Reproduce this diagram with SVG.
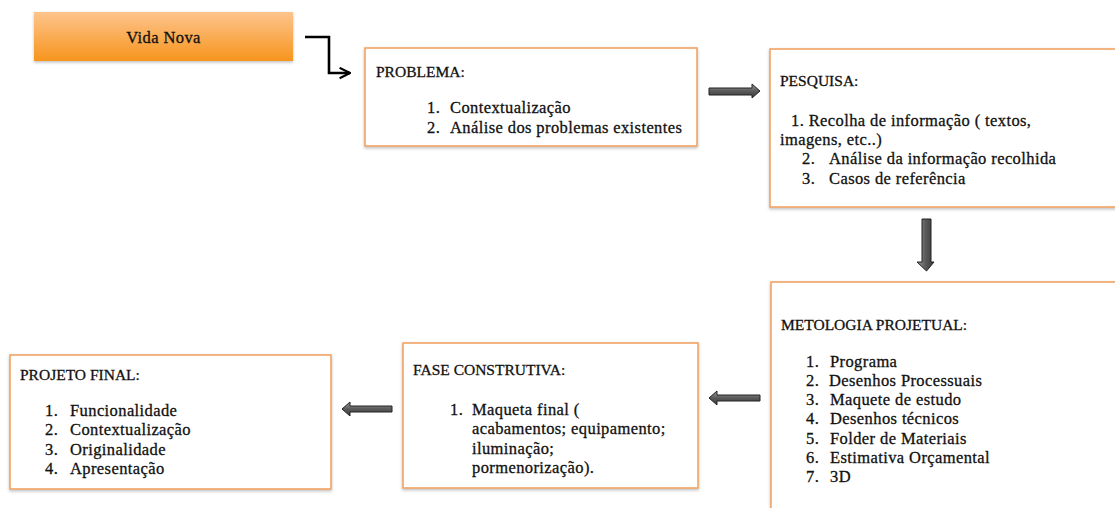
<svg xmlns="http://www.w3.org/2000/svg" width="1115" height="508" viewBox="0 0 1115 508">
<style>
text{font-family:"Liberation Serif","Times New Roman",serif;font-size:16.5px;letter-spacing:0.4px;fill:#111;stroke:#111;stroke-width:0.3}
text.t{font-size:15.5px;letter-spacing:0}
.box{fill:#fff;stroke:#f0a464;stroke-width:1.6}
.blk{fill:url(#ag);stroke:#222;stroke-width:1}
.elb{fill:none;stroke:#000;stroke-width:2.6}
</style>
<defs>
<linearGradient id="og" x1="0" y1="0" x2="0" y2="1">
<stop offset="0" stop-color="#fdc48c"/>
<stop offset="1" stop-color="#f7951e"/>
</linearGradient>
<linearGradient id="ag" x1="0" y1="0" x2="0" y2="1">
<stop offset="0" stop-color="#9a9a9a"/>
<stop offset="0.5" stop-color="#5a5a5a"/>
<stop offset="1" stop-color="#3a3a3a"/>
</linearGradient>
<linearGradient id="agv" x1="0" y1="0" x2="1" y2="0">
<stop offset="0" stop-color="#9a9a9a"/>
<stop offset="0.5" stop-color="#5a5a5a"/>
<stop offset="1" stop-color="#3a3a3a"/>
</linearGradient>
<filter id="sh" x="-5%" y="-5%" width="110%" height="115%">
<feDropShadow dx="0" dy="1.5" stdDeviation="1.5" flood-color="#000" flood-opacity="0.25"/>
</filter>
<marker id="ah" viewBox="0 0 10 10" refX="9" refY="5" markerWidth="5" markerHeight="5" orient="auto" markerUnits="strokeWidth">
<path d="M1,1 L9,5 L1,9" fill="none" stroke="#000" stroke-width="1.6"/>
</marker>
</defs>

<g id="connectors">
<path class="elb" d="M305,37 H329 V73 H350" marker-end="url(#ah)"/>
<path class="blk" d="M709,88 H752 V84 L760,91 L752,98 V95 H709 Z"/>
<path style="fill:url(#agv);stroke:#222;stroke-width:1" d="M922,219 H931 V262 H934 L926.5,271 L917,262 H922 Z"/>
<path class="blk" d="M760,395 H717 V391 L709,398 L717,405 V401 H760 Z"/>
<path class="blk" d="M392,406 H350 V402 L342,409 L350,416 V412 H392 Z"/>
</g>

<g id="vida-nova">
<rect x="34" y="12" width="259" height="49" fill="url(#og)" filter="url(#sh)"/>
<text x="163.5" y="43" text-anchor="middle">Vida Nova</text>
</g>

<g id="problema">
<rect class="box" x="365" y="48" width="332" height="98" filter="url(#sh)"/>
<text class="t" x="376" y="77">PROBLEMA:</text>
<text x="427" y="113">1.</text><text x="450" y="113">Contextualização</text>
<text x="427" y="133">2.</text><text x="450" y="133">Análise dos problemas existentes</text>
</g>

<g id="pesquisa">
<rect class="box" x="770" y="49" width="350" height="158" filter="url(#sh)"/>
<text class="t" x="780" y="86">PESQUISA:</text>
<text x="791" y="126">1. Recolha de informação ( textos,</text>
<text x="780" y="145">imagens, etc..)</text>
<text x="802" y="164">2.</text><text x="829" y="164">Análise da informação recolhida</text>
<text x="802" y="184">3.</text><text x="829" y="184">Casos de referência</text>
</g>

<g id="metologia">
<rect class="box" x="771" y="282" width="350" height="240" filter="url(#sh)"/>
<text class="t" x="781" y="330">METOLOGIA PROJETUAL:</text>
<text x="806" y="367">1.</text><text x="830" y="367">Programa</text>
<text x="806" y="386">2.</text><text x="829" y="386">Desenhos Processuais</text>
<text x="806" y="405">3.</text><text x="830" y="405">Maquete de estudo</text>
<text x="806" y="424">4.</text><text x="830" y="424">Desenhos técnicos</text>
<text x="806" y="444">5.</text><text x="830" y="444">Folder de Materiais</text>
<text x="806" y="463">6.</text><text x="830" y="463">Estimativa Orçamental</text>
<text x="806" y="482">7.</text><text x="830" y="482">3D</text>
</g>

<g id="fase-construtiva">
<rect class="box" x="403" y="343" width="295" height="145" filter="url(#sh)"/>
<text class="t" x="413" y="375">FASE CONSTRUTIVA:</text>
<text x="450" y="415">1.</text><text x="472" y="415">Maqueta final (</text>
<text x="472" y="434">acabamentos; equipamento;</text>
<text x="472" y="454">iluminação;</text>
<text x="472" y="473">pormenorização).</text>
</g>

<g id="projeto-final">
<rect class="box" x="10" y="355" width="321" height="134" filter="url(#sh)"/>
<text class="t" x="20" y="380">PROJETO FINAL:</text>
<text x="45" y="416">1.</text><text x="70" y="416">Funcionalidade</text>
<text x="45" y="435">2.</text><text x="70" y="435">Contextualização</text>
<text x="45" y="455">3.</text><text x="70" y="455">Originalidade</text>
<text x="45" y="474">4.</text><text x="70" y="474">Apresentação</text>
</g>
</svg>
